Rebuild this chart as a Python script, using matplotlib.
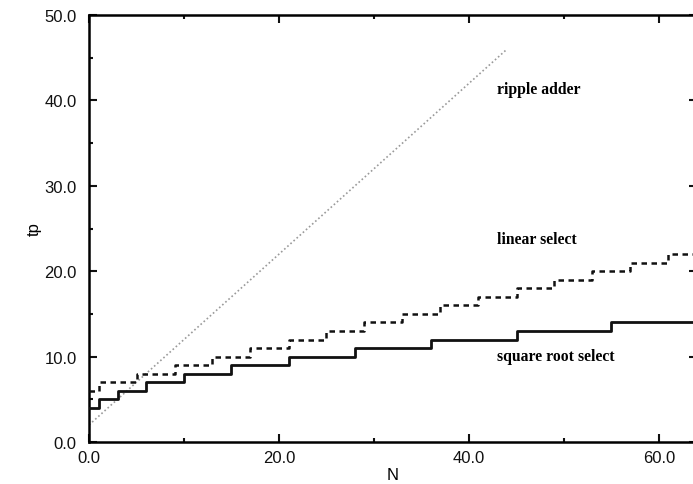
import matplotlib
matplotlib.use("Agg")
import matplotlib.pyplot as plt
from matplotlib.ticker import MultipleLocator, FormatStrFormatter

# data
ripple_n = [0, 44]
ripple_tp = [2, 46]

linear_n = [0, 1, 5, 9, 13, 17, 21, 25, 29, 33, 37, 41, 45, 49, 53, 57, 61, 64]
linear_tp = [6, 7, 8, 9, 10, 11, 12, 13, 14, 15, 16, 17, 18, 19, 20, 21, 22, 22]

sqrt_n = [0, 1, 3, 6, 10, 15, 21, 28, 36, 45, 55, 64]
sqrt_tp = [4, 5, 6, 7, 8, 9, 10, 11, 12, 13, 14, 14]

labels = ["ripple adder", "linear select", "square root select"]
label_pos = [(43.0, 41.3), (43.0, 23.8), (43.0, 10.1)]

W, H = 693, 485
fig = plt.figure(figsize=(W / 100, H / 100), dpi=100)
ax = fig.add_axes([89 / W, (H - 443) / H, (697 - 89) / W, (443 - 16) / H])

ax.plot(ripple_n, ripple_tp, color="#9a9a9a", lw=1.2, linestyle=(0, (1.0, 1.5)), zorder=2)
ax.step(linear_n, linear_tp, where="post", color="#111111", lw=1.8,
        linestyle=(0, (2.2, 1.8)), zorder=3)
ax.step(sqrt_n, sqrt_tp, where="post", color="#111111", lw=2.0, zorder=4)

for t, (x, y) in zip(labels, label_pos):
    ax.text(x, y, t, family="Liberation Serif", fontweight="bold", fontsize=11.3,
            ha="left", va="center")

ax.set_xlim(0, 64)
ax.set_ylim(0, 50)
ax.xaxis.set_major_locator(MultipleLocator(20))
ax.xaxis.set_minor_locator(MultipleLocator(10))
ax.yaxis.set_major_locator(MultipleLocator(10))
ax.yaxis.set_minor_locator(MultipleLocator(5))
ax.xaxis.set_major_formatter(FormatStrFormatter("%.1f"))
ax.yaxis.set_major_formatter(FormatStrFormatter("%.1f"))

for s in ax.spines.values():
    s.set_linewidth(1.8)
ax.tick_params(which="both", direction="in", top=True, right=True, width=1.5,
               labelsize=12, labelfontfamily="Liberation Sans", colors="#111111")
ax.tick_params(which="major", length=6)
ax.tick_params(axis="y", which="major", pad=9)
ax.tick_params(axis="x", which="major", pad=6)
ax.tick_params(which="minor", length=3)

ax.set_xlabel("N", family="Liberation Sans", fontsize=12, labelpad=1)
ax.set_ylabel("tp", family="Liberation Sans", fontsize=12, labelpad=2)

fig.savefig("out.png", dpi=100)
